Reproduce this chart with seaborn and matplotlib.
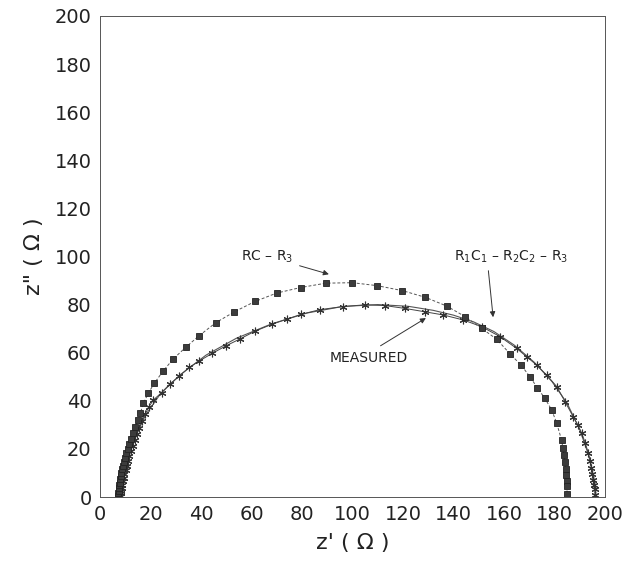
import numpy as np
import pandas as pd
import seaborn as sns
import matplotlib.pyplot as plt

# Data (Z' and Z'' in ohms)
rc_x = [7.2, 7.3, 7.4, 7.5, 7.6, 7.8, 8.0, 8.2, 8.5, 8.8, 9.1, 9.5, 9.9, 10.4, 10.9,
        11.5, 12.2, 13.0, 13.9, 14.9, 16.0, 17.2, 19.1, 21.5, 25.1, 29.0, 33.9, 39.3,
        45.9, 53.2, 61.4, 70.0, 79.5, 89.4, 99.9, 109.6, 119.8, 128.9, 137.3, 144.6,
        151.2, 157.1, 162.4, 166.7, 170.3, 173.2, 176.2, 178.9, 180.9, 182.8, 183.3,
        183.7, 184.1, 184.4, 184.6, 184.8, 184.9, 185.0, 185.0, 185.0]
rc_y = [0.5, 1.5, 2.5, 3.6, 4.8, 6.0, 7.3, 8.6, 10.0, 11.5, 13.0, 14.6, 16.3, 18.1, 20.0,
        22.0, 24.2, 26.6, 29.2, 32.0, 35.0, 39.0, 43.1, 47.3, 52.5, 57.4, 62.2, 67.1,
        72.5, 77.0, 81.3, 84.8, 87.1, 88.9, 89.1, 87.9, 85.8, 83.0, 79.4, 75.0,
        70.1, 65.6, 59.5, 54.9, 50.0, 45.4, 41.0, 36.2, 30.6, 23.7, 20.5,
        17.5, 14.6, 11.8, 9.2, 6.8, 4.6, 2.7, 1.0, 0.2]

meas_x = [8.3, 8.4, 8.5, 8.7, 8.9, 9.1, 9.4, 9.7, 10.1, 10.5, 11.0, 11.6, 12.2, 12.9,
          13.7, 14.6, 15.6, 16.7, 17.9, 19.3, 21.1, 24.4, 27.7, 31.4, 35.4, 39.2, 44.4,
          49.8, 55.4, 61.3, 68.3, 73.9, 79.5, 87.1, 96.4, 105.0, 112.8, 120.8, 128.7,
          135.9, 143.9, 151.2, 158.4, 165.0, 169.0, 172.9, 176.9, 180.9, 184.2, 187.4,
          189.2, 190.8, 192.2, 193.4, 194.0, 194.6, 195.0, 195.4, 195.7, 195.9, 196.0, 196.0]
meas_y = [0.5, 1.5, 2.6, 3.8, 5.1, 6.5, 8.0, 9.6, 11.3, 13.1, 15.0, 17.0, 19.1, 21.3,
          23.7, 26.2, 28.8, 31.6, 34.5, 37.4, 40.3, 43.4, 47.0, 50.3, 53.9, 56.5, 59.7,
          62.8, 65.7, 68.9, 71.9, 73.9, 75.9, 77.9, 79.2, 79.9, 79.6, 78.4, 77.0,
          75.7, 73.6, 70.8, 66.7, 61.8, 58.3, 54.9, 50.7, 45.9, 39.6, 33.4,
          30.0, 26.5, 22.4, 18.2, 15.0, 12.0, 9.5, 7.2, 5.0, 3.2, 1.5, 0.4]

fit_x = [8.0, 9.0, 11.0, 14.0, 18.0, 24.0, 32.0, 42.0, 54.0, 68.0, 82.0, 96.0, 110.0,
         122.0, 132.0, 140.0, 148.0, 156.0, 164.0, 172.0, 179.0, 185.0, 190.0, 194.0,
         196.0, 196.5]
fit_y = [0.0, 8.0, 16.0, 25.0, 34.0, 43.0, 51.0, 59.0, 66.0, 72.0, 76.5, 79.2, 80.0,
         79.3, 77.6, 75.6, 72.8, 68.8, 63.2, 56.0, 48.0, 39.0, 28.0, 16.0, 6.0, 0.0]

rc = pd.DataFrame({"x": rc_x, "y": rc_y})
meas = pd.DataFrame({"x": meas_x, "y": meas_y})
fit = pd.DataFrame({"x": fit_x, "y": fit_y})

sns.set_theme(style="white")
plt.rcParams["font.family"] = ["DejaVu Sans"]

fig = plt.figure(figsize=(6.25, 5.69), dpi=100)
ax = fig.add_axes([0.16, 0.1265, 0.808, 0.8455])

ink = "#222222"
sns.lineplot(data=fit, x="x", y="y", sort=False, ax=ax, color="#555555", lw=0.8)
sns.lineplot(data=meas, x="x", y="y", sort=False, ax=ax, color="#444444", lw=0.7,
             marker=(6, 2, 0), markersize=5.5, markeredgewidth=0.8,
             markeredgecolor="#333333")
sns.lineplot(data=rc, x="x", y="y", sort=False, ax=ax, color="#555555", lw=0.7,
             linestyle=(0, (3, 2)), marker="s", markersize=5,
             markerfacecolor="#3c3c3c", markeredgecolor=ink, markeredgewidth=0.6)

ax.set_xlim(0, 200)
ax.set_ylim(0, 200)
ax.set_xticks(np.arange(0, 201, 20))
ax.set_yticks(np.arange(0, 201, 20))
ax.tick_params(direction="out", length=3, width=0.6, colors="#333333",
               labelsize=14, labelcolor="#222222", pad=3)
for s in ax.spines.values():
    s.set_linewidth(0.7)
    s.set_color("#555555")
    s.set_linestyle((0, (2, 1)))

ax.set_xlabel("z' ( Ω )", fontsize=16, color="#222222", labelpad=6)
ax.set_ylabel('z" ( Ω )', fontsize=16, color="#222222", labelpad=8)

arrow = dict(arrowstyle="-|>", color="#333333", lw=0.7, mutation_scale=8)
ax.annotate("RC – R$_3$", xy=(91.7, 92.3), xytext=(56, 100), fontsize=10,
            color="#222222", va="center", arrowprops=arrow)
ax.annotate("R$_1$C$_1$ – R$_2$C$_2$ – R$_3$", xy=(155.8, 73.6), xytext=(140, 100),
            fontsize=10, color="#222222", va="center",
            arrowprops=dict(arrowstyle="-|>", color="#333333", lw=0.7,
                            mutation_scale=8, relpos=(0.3, 0)))
ax.annotate("MEASURED", xy=(130, 75), xytext=(91, 58), fontsize=10,
            color="#222222", va="center",
            arrowprops=dict(arrowstyle="-|>", color="#333333", lw=0.7,
                            mutation_scale=8, relpos=(0.55, 1)))

plt.savefig("out.png", dpi=100)
